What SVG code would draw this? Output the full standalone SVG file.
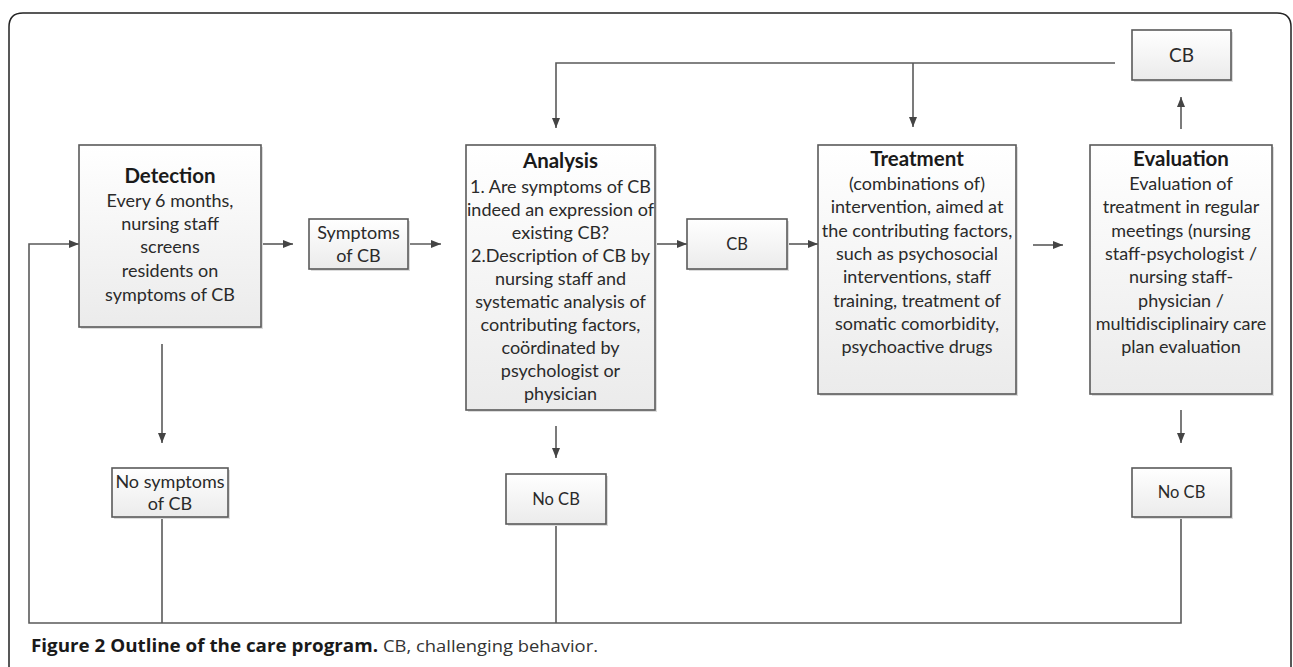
<svg xmlns="http://www.w3.org/2000/svg" width="1293" height="667" viewBox="0 0 1293 667">
<style>
.box{fill:url(#g);stroke:#5a5a5a;stroke-width:1.6}
.shadow{fill:#dcdcdc}
.t{font-family:Lato,"Open Sans",sans-serif;font-size:18px;fill:#2a2a2a;text-anchor:middle}
.h{font-family:Lato,"Open Sans",sans-serif;font-size:20.5px;font-weight:bold;fill:#1a1a1a;text-anchor:middle}
.s{font-family:Lato,"Open Sans",sans-serif;font-size:16.5px;fill:#2a2a2a;text-anchor:middle}
.c{fill:none;stroke:#5a5a5a;stroke-width:1.6}
</style>
<defs>
<linearGradient id="g" x1="0" y1="0" x2="0" y2="1">
<stop offset="0" stop-color="#ffffff"/>
<stop offset="1" stop-color="#ebebeb"/>
</linearGradient>
<marker id="a" markerUnits="userSpaceOnUse" markerWidth="12" markerHeight="12" viewBox="0 0 12 12" refX="11" refY="6" orient="auto">
<path d="M1,2 L11,6 L1,10 Z" fill="#444"/>
</marker>
</defs>
<path d="M9,667 V27 Q9,13 23,13 H1277 Q1291,13 1291,27 V667" fill="none" stroke="#222" stroke-width="1.5"/>
<g id="connectors">
<path class="c" d="M1181,517 V623 H29 V244 H79" marker-end="url(#a)"/>
<path class="c" d="M162,517 V623"/>
<path class="c" d="M556,524 V623"/>
<path class="c" d="M162,344 V443" marker-end="url(#a)"/>
<path class="c" d="M261,244 H293" marker-end="url(#a)"/>
<path class="c" d="M408,244 H441" marker-end="url(#a)"/>
<path class="c" d="M655,244 H687" marker-end="url(#a)"/>
<path class="c" d="M787,244 H818" marker-end="url(#a)"/>
<path class="c" d="M1033,245 H1063" marker-end="url(#a)"/>
<path class="c" d="M1181,129 V97" marker-end="url(#a)"/>
<path class="c" d="M1181,410 V443" marker-end="url(#a)"/>
<path class="c" d="M556,426 V458" marker-end="url(#a)"/>
<path class="c" d="M1115,63 H556 V128" marker-end="url(#a)"/>
<path class="c" d="M913,63 V127" marker-end="url(#a)"/>
</g>
<g id="detection">
<rect class="shadow" x="81" y="147" width="182" height="182"/>
<rect class="box" x="79" y="145" width="182" height="182"/>
<text class="h" x="170" y="183">Detection</text>
<text class="t" x="170" y="207">Every 6 months,</text>
<text class="t" x="170" y="230">nursing staff</text>
<text class="t" x="170" y="253">screens</text>
<text class="t" x="170" y="277">residents on</text>
<text class="t" x="170" y="301">symptoms of CB</text>
</g>
<g id="symptoms">
<rect class="shadow" x="311" y="221" width="99" height="50"/>
<rect class="box" x="309" y="219" width="99" height="50"/>
<text class="t" x="358.5" y="239">Symptoms</text>
<text class="t" x="358.5" y="262">of CB</text>
</g>
<g id="analysis">
<rect class="shadow" x="468" y="147" width="189" height="265"/>
<rect class="box" x="466" y="145" width="189" height="265"/>
<text class="h" x="560.5" y="168">Analysis</text>
<text class="t" x="560.5" y="193">1. Are symptoms of CB</text>
<text class="t" x="560.5" y="216">indeed an expression of</text>
<text class="t" x="560.5" y="239">existing CB?</text>
<text class="t" x="560.5" y="262">2.Description of CB by</text>
<text class="t" x="560.5" y="285">nursing staff and</text>
<text class="t" x="560.5" y="308">systematic analysis of</text>
<text class="t" x="560.5" y="331">contributing factors,</text>
<text class="t" x="560.5" y="354">coördinated by</text>
<text class="t" x="560.5" y="377">psychologist or</text>
<text class="t" x="560.5" y="400">physician</text>
</g>
<g id="cb-mid">
<rect class="shadow" x="689" y="221" width="100" height="50"/>
<rect class="box" x="687" y="219" width="100" height="50"/>
<text class="s" x="737" y="250">CB</text>
</g>
<g id="treatment">
<rect class="shadow" x="820" y="147" width="198" height="249"/>
<rect class="box" x="818" y="145" width="198" height="249"/>
<text class="h" x="917" y="166">Treatment</text>
<text class="t" x="917" y="190">(combinations of)</text>
<text class="t" x="917" y="213">intervention, aimed at</text>
<text class="t" x="917" y="237">the contributing factors,</text>
<text class="t" x="917" y="260">such as psychosocial</text>
<text class="t" x="917" y="283">interventions, staff</text>
<text class="t" x="917" y="307">training, treatment of</text>
<text class="t" x="917" y="330">somatic comorbidity,</text>
<text class="t" x="917" y="353">psychoactive drugs</text>
</g>
<g id="evaluation">
<rect class="shadow" x="1092" y="147" width="182" height="249"/>
<rect class="box" x="1090" y="145" width="182" height="249"/>
<text class="h" x="1181" y="166">Evaluation</text>
<text class="t" x="1181" y="190">Evaluation of</text>
<text class="t" x="1181" y="213">treatment in regular</text>
<text class="t" x="1181" y="237">meetings (nursing</text>
<text class="t" x="1181" y="260">staff-psychologist /</text>
<text class="t" x="1181" y="283">nursing staff-</text>
<text class="t" x="1181" y="307">physician /</text>
<text class="t" x="1181" y="330">multidisciplinairy care</text>
<text class="t" x="1181" y="353">plan evaluation</text>
</g>
<g id="cb-top">
<rect class="shadow" x="1134" y="32" width="99" height="50"/>
<rect class="box" x="1132" y="30" width="99" height="50"/>
<text class="t" x="1181.5" y="62" style="font-size:19px">CB</text>
</g>
<g id="no-symptoms">
<rect class="shadow" x="114" y="470" width="116" height="49"/>
<rect class="box" x="112" y="468" width="116" height="49"/>
<text class="t" x="170" y="488">No symptoms</text>
<text class="t" x="170" y="510">of CB</text>
</g>
<g id="no-cb-analysis">
<rect class="shadow" x="508" y="476" width="100" height="50"/>
<rect class="box" x="506" y="474" width="100" height="50"/>
<text class="s" x="556" y="505">No CB</text>
</g>
<g id="no-cb-eval">
<rect class="shadow" x="1134" y="470" width="99" height="49"/>
<rect class="box" x="1132" y="468" width="99" height="49"/>
<text class="s" x="1181.5" y="498">No CB</text>
</g>
<g id="caption">
<text x="31" y="652" style="font-family:'Open Sans',sans-serif;font-size:17px"><tspan font-weight="bold" fill="#1a1a1a" textLength="347" lengthAdjust="spacingAndGlyphs">Figure 2 Outline of the care program.</tspan><tspan x="383" fill="#333" textLength="215" lengthAdjust="spacingAndGlyphs">CB, challenging behavior.</tspan></text>
</g>
</svg>
